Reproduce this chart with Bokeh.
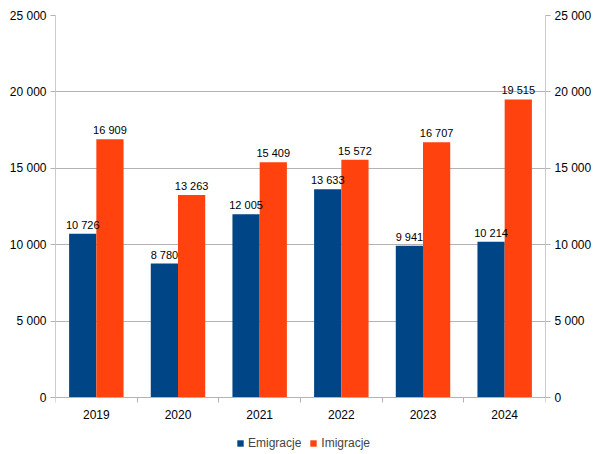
from bokeh.plotting import figure
from bokeh.models import (ColumnDataSource, FixedTicker, LinearAxis, Range1d,
                          Legend, LegendItem)
from bokeh.core.properties import value
from bokeh.embed import file_html
from bokeh.resources import INLINE

years = ["2019", "2020", "2021", "2022", "2023", "2024"]
emigracje = [10726, 8780, 12005, 13633, 9941, 10214]
imigracje = [16909, 13263, 15409, 15572, 16707, 19515]
y_ticks = [0, 5000, 10000, 15000, 20000, 25000]
y_tick_labels = ["0", "5 000", "10 000", "15 000", "20 000", "25 000"]
series_names = ["Emigracje", "Imigracje"]
colors = ["#004586", "#ff420e"]

FONT = "Liberation Sans"

def fmt(v):
    return f"{v:,}".replace(",", " ")

n = len(years)
centers = [i + 0.5 for i in range(n)]
bw = 1.0 / 3

# frame extends below zero to leave room for the legend inside it
p = figure(width=592, height=454, output_backend="svg", toolbar_location=None,
           x_range=Range1d(0, n), y_range=Range1d(-3700, 25000),
           min_border_left=55, min_border_right=47, min_border_top=15,
           min_border_bottom=0, frame_width=490, frame_height=439)
p.outline_line_color = None
p.background_fill_color = "white"

src_e = ColumnDataSource(dict(x=[c - bw / 2 for c in centers], top=emigracje,
                              lab=[fmt(v) for v in emigracje]))
src_i = ColumnDataSource(dict(x=[c + bw / 2 for c in centers], top=imigracje,
                              lab=[fmt(v) for v in imigracje]))

r_e = p.vbar(x="x", top="top", bottom=0, width=bw, source=src_e,
             fill_color=colors[0], line_color=None)
r_i = p.vbar(x="x", top="top", bottom=0, width=bw, source=src_i,
             fill_color=colors[1], line_color=None)

for s in (src_e, src_i):
    p.text(x="x", y="top", text="lab", source=s, text_align="center",
           text_baseline="bottom", y_offset=-3, text_font=value(FONT),
           text_font_size="11px", text_color="black")

# grid
p.xgrid.visible = False
p.ygrid.grid_line_color = "#b3b3b3"
p.ygrid.ticker = FixedTicker(ticks=y_ticks)

# x axis, drawn at y = 0
xa = p.xaxis[0]
xa.fixed_location = 0
xa.ticker = FixedTicker(ticks=centers, minor_ticks=list(range(n + 1)))
xa.major_label_overrides = {c: y for c, y in zip(centers, years)}
xa.major_tick_line_color = None
xa.minor_tick_line_color = "#b3b3b3"
xa.minor_tick_out = 5
xa.minor_tick_in = 0
xa.axis_line_color = "#b3b3b3"
xa.major_label_text_font = FONT
xa.major_label_text_font_size = "12px"
xa.major_label_text_color = "black"
xa.major_label_standoff = 6

# y axes
ya = p.yaxis[0]
ra = LinearAxis()
p.add_layout(ra, "right")
for ax in (ya, ra):
    ax.bounds = (0, 25000)
    ax.ticker = FixedTicker(ticks=y_ticks)
    ax.major_label_overrides = {t: l for t, l in zip(y_ticks, y_tick_labels)}
    ax.minor_tick_line_color = None
    ax.major_tick_line_color = "#b3b3b3"
    ax.major_tick_out = 5
    ax.major_tick_in = 0
    ax.axis_line_color = "#cccccc"
    ax.major_label_text_font = FONT
    ax.major_label_text_font_size = "12px"
    ax.major_label_text_color = "black"
    ax.major_label_standoff = 4

legend = Legend(items=[LegendItem(label=series_names[0], renderers=[r_e]),
                       LegendItem(label=series_names[1], renderers=[r_i])],
                orientation="horizontal", location=(181, 4),
                label_text_font=FONT, label_text_font_size="12px",
                glyph_width=8, glyph_height=8, label_standoff=4, spacing=8,
                label_height=12, border_line_color=None, background_fill_alpha=0,
                margin=0, padding=0)
p.add_layout(legend, "center")

open("out.html", "w").write(file_html(p, INLINE))
